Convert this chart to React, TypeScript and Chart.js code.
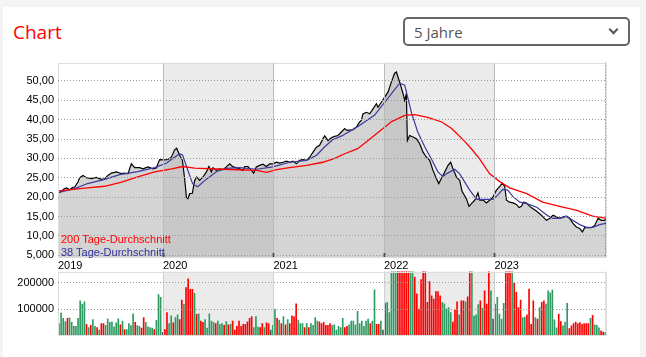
import React, { useEffect, useRef } from 'react';
import { Chart, registerables } from 'chart.js';

Chart.register(...registerables);

// ---------- axis ranges / ticks ----------
const xMin = 2019.05;
const xMax = 2024.019;
const xTickValues = [2019.05, 2020, 2021, 2022, 2023];
const xTickLabels = ['2019', '2020', '2021', '2022', '2023'];
const yearLines = [2020, 2021, 2022, 2023, 2024];
const shadedYears = [[2020, 2021], [2022, 2023], [2024, 2025]];
const yMin = 4.28;
const yMax = 54.73;
const yTickValues = [5, 10, 15, 20, 25, 30, 35, 40, 45, 50];
const yTickLabels = ['5,000', '10,00', '15,00', '20,00', '25,00', '30,00', '35,00', '40,00', '45,00', '50,00'];
const volMax = 243000;
const volTickValues = [100000, 200000];
const volTickLabels = ['100000', '200000'];

// ---------- price (dates as decimal years) ----------
const priceDates2019 = [2019.059, 2019.083, 2019.110, 2019.128, 2019.155, 2019.183, 2019.201, 2019.231, 2019.246, 2019.276, 2019.307, 2019.352, 2019.397, 2019.442, 2019.472, 2019.502, 2019.533, 2019.578, 2019.623, 2019.653, 2019.683, 2019.714, 2019.744, 2019.789, 2019.819, 2019.864, 2019.910, 2019.940, 2019.970];
const priceValues2019 = [21.1, 21.6, 22.2, 22.4, 21.9, 22.5, 22.6, 23.9, 25.0, 25.6, 25.0, 24.8, 25.1, 24.6, 24.7, 25.6, 26.2, 26.5, 26.1, 26.2, 26.0, 28.6, 27.6, 27.6, 27.3, 27.8, 27.3, 27.5, 29.7];
const priceDates2020 = [2020.015, 2020.045, 2020.076, 2020.106, 2020.124, 2020.151, 2020.176, 2020.196, 2020.212, 2020.226, 2020.242, 2020.266, 2020.287, 2020.305, 2020.332, 2020.362, 2020.393, 2020.416, 2020.438, 2020.453, 2020.483, 2020.513, 2020.543, 2020.574, 2020.604, 2020.634, 2020.664, 2020.694, 2020.724, 2020.740, 2020.769, 2020.800, 2020.821, 2020.845, 2020.875, 2020.905, 2020.936, 2020.966];
const priceValues2020 = [29.6, 29.7, 30.3, 32.2, 32.6, 30.8, 29.5, 24.8, 20.0, 19.6, 20.9, 21.0, 24.3, 25.2, 24.3, 25.2, 26.5, 27.9, 26.5, 27.6, 26.9, 27.3, 27.1, 27.8, 28.6, 27.8, 27.6, 27.3, 26.9, 27.9, 27.9, 26.9, 26.2, 27.8, 28.2, 28.5, 27.9, 28.6];
const priceDates2021 = [2020.996, 2021.027, 2021.056, 2021.086, 2021.117, 2021.147, 2021.177, 2021.208, 2021.237, 2021.267, 2021.298, 2021.328, 2021.358, 2021.389, 2021.418, 2021.448, 2021.464, 2021.494, 2021.524, 2021.554, 2021.584, 2021.615, 2021.645, 2021.660, 2021.690, 2021.720, 2021.751, 2021.781, 2021.796, 2021.810, 2021.841, 2021.871, 2021.901, 2021.932, 2021.946, 2021.977];
const priceValues2021 = [28.6, 29.0, 28.8, 29.0, 29.3, 29.0, 29.3, 28.6, 29.5, 29.7, 29.5, 30.3, 31.6, 32.9, 33.4, 35.1, 35.8, 34.6, 35.3, 35.7, 35.9, 36.8, 37.7, 37.3, 37.3, 37.4, 38.1, 39.4, 39.8, 41.5, 41.9, 41.5, 42.8, 44.1, 43.2, 44.5];
const priceDates2022 = [2022.007, 2022.037, 2022.067, 2022.097, 2022.113, 2022.127, 2022.152, 2022.173, 2022.188, 2022.203, 2022.212, 2022.233, 2022.263, 2022.294, 2022.324, 2022.354, 2022.384, 2022.414, 2022.444, 2022.475, 2022.496, 2022.520, 2022.550, 2022.580, 2022.604, 2022.625, 2022.656, 2022.686, 2022.707, 2022.746, 2022.770, 2022.792, 2022.822, 2022.851, 2022.867, 2022.897, 2022.927, 2022.957, 2022.987];
const priceValues2022 = [45.8, 47.1, 49.7, 52.0, 52.3, 51.0, 48.8, 46.7, 45.0, 46.7, 34.6, 35.9, 35.5, 35.1, 33.8, 31.6, 30.3, 29.5, 26.9, 24.8, 23.5, 24.8, 26.5, 28.2, 29.0, 27.3, 25.2, 24.3, 21.5, 19.6, 17.6, 18.3, 19.2, 21.1, 19.2, 19.3, 18.5, 19.2, 20.0];
const priceDates2023 = [2023.018, 2023.048, 2023.072, 2023.093, 2023.109, 2023.138, 2023.168, 2023.199, 2023.223, 2023.244, 2023.265, 2023.290, 2023.319, 2023.349, 2023.380, 2023.410, 2023.440, 2023.471, 2023.500, 2023.530, 2023.561, 2023.591, 2023.621, 2023.652, 2023.681, 2023.711, 2023.742, 2023.772, 2023.796, 2023.817, 2023.847, 2023.878, 2023.908, 2023.938, 2023.968, 2023.998, 2024.014];
const priceValues2023 = [21.8, 22.8, 23.6, 22.8, 19.2, 18.7, 18.5, 18.1, 17.3, 17.6, 18.7, 18.5, 17.6, 17.0, 16.4, 15.7, 14.9, 14.0, 14.5, 15.3, 14.9, 14.5, 14.9, 15.1, 14.5, 13.2, 12.3, 11.9, 11.0, 12.1, 12.1, 12.1, 12.7, 14.5, 14.0, 14.0, 14.5];

// ---------- moving averages ----------
const ma200Dates = [2019.056, 2019.318, 2019.472, 2019.626, 2019.771, 2019.925, 2020.079, 2020.178, 2020.287, 2020.540, 2020.848, 2020.939, 2021.029, 2021.147, 2021.301, 2021.446, 2021.554, 2021.645, 2021.762, 2021.916, 2022.070, 2022.188, 2022.278, 2022.396, 2022.523, 2022.613, 2022.731, 2022.803, 2022.867, 2022.957, 2023.048, 2023.138, 2023.292, 2023.437, 2023.591, 2023.745, 2023.890, 2024.016];
const ma200Values = [21.6, 22.4, 22.8, 23.9, 25.2, 26.5, 27.3, 27.9, 27.5, 27.2, 26.9, 26.4, 27.1, 27.6, 28.2, 29.0, 30.0, 31.2, 32.5, 36.0, 39.5, 41.1, 41.3, 40.6, 39.4, 37.7, 34.4, 32.1, 29.8, 26.0, 24.0, 22.4, 20.9, 18.7, 17.6, 16.6, 15.1, 14.5];
const ma38Dates = [2019.056, 2019.201, 2019.318, 2019.472, 2019.608, 2019.771, 2019.925, 2020.033, 2020.079, 2020.151, 2020.178, 2020.224, 2020.269, 2020.314, 2020.396, 2020.486, 2020.577, 2020.694, 2020.848, 2020.993, 2021.147, 2021.301, 2021.391, 2021.464, 2021.536, 2021.618, 2021.762, 2021.916, 2022.070, 2022.143, 2022.188, 2022.251, 2022.306, 2022.369, 2022.432, 2022.487, 2022.532, 2022.577, 2022.641, 2022.686, 2022.776, 2022.840, 2022.985, 2023.030, 2023.075, 2023.120, 2023.166, 2023.229, 2023.292, 2023.383, 2023.473, 2023.528, 2023.591, 2023.654, 2023.709, 2023.772, 2023.835, 2023.890, 2023.953, 2024.016];
const ma38Values = [21.2, 22.2, 23.5, 24.6, 25.8, 26.6, 27.6, 28.8, 29.8, 31.2, 30.8, 27.0, 23.4, 22.7, 24.7, 26.6, 27.4, 27.6, 27.2, 27.8, 29.0, 29.5, 30.8, 33.0, 34.8, 35.8, 38.2, 41.2, 46.8, 49.4, 48.9, 41.6, 36.8, 33.0, 29.7, 26.6, 25.3, 26.2, 27.2, 26.0, 21.8, 19.4, 19.4, 20.5, 22.0, 21.8, 20.2, 18.7, 18.3, 17.4, 15.4, 14.5, 14.5, 15.0, 14.0, 12.9, 12.2, 12.2, 12.9, 13.3];

// ---------- weekly volume (thousands) and direction (g up, r down, d neutral) ----------
const volStart = 2019.059;
const weekStep = 7 / 365.25;
const vol2019 = [45, 85, 65, 53, 65, 67, 50, 35, 35, 65, 132, 118, 128, 42, 30, 38, 60, 35, 30, 20, 45, 45, 38, 63, 50, 52, 33, 48, 63, 40, 55, 22, 22, 45, 37, 82, 50, 37, 35, 28, 68, 50, 33, 30, 28, 22, 57, 155, 145, 12];
const dir2019 = 'ggggrggggggggrgrggrgrrgggggggrgrggggrggrrggggrgggd';
const vol2020 = [22, 87, 45, 75, 48, 68, 78, 60, 135, 118, 182, 215, 175, 175, 160, 80, 82, 55, 50, 60, 28, 82, 55, 50, 45, 55, 42, 45, 38, 53, 40, 42, 55, 20, 35, 55, 35, 42, 42, 52, 65, 72, 30, 72, 32, 30, 45, 30, 48, 45, 20, 38];
const dir2020 = 'rrggrggrrgrrrrgrgrrgggggrgggrgrgrrrrrrrrrrgggrrgrrdg';
const vol2021 = [100, 65, 58, 45, 72, 40, 60, 45, 75, 72, 120, 58, 45, 45, 30, 45, 30, 45, 38, 68, 55, 52, 45, 50, 38, 38, 45, 38, 40, 20, 35, 30, 65, 30, 35, 40, 55, 55, 40, 92, 45, 55, 35, 55, 62, 45, 55, 174, 42, 42, 55, 20];
const dir2021 = 'grgrgrgrrrrgggrgrggggrrrrrrggggggrrggggggggggrggrrgd';
const vol2022 = [122, 126, 87, 250, 250, 250, 250, 250, 250, 250, 250, 250, 250, 250, 222, 158, 100, 213, 250, 250, 126, 205, 151, 138, 167, 167, 151, 126, 120, 100, 106, 87, 51, 96, 128, 78, 132, 132, 128, 147, 250, 250, 74, 78, 117, 132, 103, 170, 119, 250, 170, 62];
const dir2022 = 'rgggggrrrrrrggrrrrrrrrrrrrrgggggrrrgrrgrrggggrgrrrgd';
const vol2023 = [119, 145, 81, 62, 122, 250, 250, 250, 250, 199, 164, 106, 135, 68, 70, 78, 176, 42, 132, 68, 62, 106, 126, 132, 119, 170, 162, 173, 59, 29, 81, 53, 36, 51, 122, 26, 36, 45, 51, 45, 49, 42, 45, 45, 45, 65, 76, 40, 38, 29, 17, 13, 12];
const dir2023 = 'gggggrrrgrrrrggrrrrgrgrrggggggrrgggrrrrrrrrrrgrgggrrg';

const dirColors: Record<string, string> = { g: '#2e9c62', r: '#ff0000', d: '#555555' };
const FONT = '"Liberation Sans", Arial, sans-serif';

const yearBands = {
  id: 'yearBands',
  beforeDraw(chart: any, _a: any, opts: any) {
    const { ctx, chartArea: a, scales } = chart;
    const x = scales.x;
    ctx.save();
    ctx.fillStyle = '#ffffff';
    ctx.fillRect(a.left, a.top, a.right - a.left, a.bottom - a.top);
    ctx.fillStyle = opts.band;
    for (const [s, e] of shadedYears) {
      const x0 = Math.max(a.left, x.getPixelForValue(s));
      const x1 = Math.min(a.right, x.getPixelForValue(e));
      if (x1 > x0) ctx.fillRect(x0, a.top, x1 - x0, a.bottom - a.top);
    }
    ctx.restore();
  },
  afterDatasetsDraw(chart: any, _a: any, opts: any) {
    const { ctx, chartArea: a, scales } = chart;
    const x = scales.x;
    ctx.save();
    ctx.lineWidth = 1;
    for (const yr of yearLines) {
      const px = Math.round(x.getPixelForValue(yr)) + 0.5;
      if (px < a.left || px > a.right) continue;
      ctx.beginPath();
      if (yr === 2024) {
        ctx.setLineDash([1, 2]);
        ctx.strokeStyle = opts.lastColor;
      } else {
        ctx.setLineDash([]);
        ctx.strokeStyle = opts.lineColor;
      }
      ctx.moveTo(px, a.top);
      ctx.lineTo(px, a.bottom);
      ctx.stroke();
      if (opts.ticks && yr !== 2024) {
        ctx.setLineDash([]);
        ctx.strokeStyle = '#555555';
        ctx.lineWidth = 2;
        ctx.beginPath();
        ctx.moveTo(px, a.bottom - 5);
        ctx.lineTo(px, a.bottom);
        ctx.stroke();
        ctx.lineWidth = 1;
      }
    }
    ctx.setLineDash([]);
    ctx.strokeStyle = '#dddddd';
    ctx.strokeRect(Math.round(a.left) + 0.5, Math.round(a.top) + 0.5, Math.round(a.right - a.left) - 1, Math.round(a.bottom - a.top) - 1);
    ctx.restore();
  },
};

function zip(d: number[], v: number[]) {
  return d.map((x, i) => ({ x, y: v[i] }));
}

export default function App() {
  const mainRef = useRef<HTMLCanvasElement>(null);
  const volRef = useRef<HTMLCanvasElement>(null);

  useEffect(() => {
    Chart.defaults.font.family = FONT;
    Chart.defaults.font.size = 11;
    Chart.defaults.color = '#000';

    const pricePoints = [
      ...zip(priceDates2019, priceValues2019),
      ...zip(priceDates2020, priceValues2020),
      ...zip(priceDates2021, priceValues2021),
      ...zip(priceDates2022, priceValues2022),
      ...zip(priceDates2023, priceValues2023),
    ];

    const main = new Chart(mainRef.current!, {
      type: 'line',
      data: {
        datasets: [
          {
            data: pricePoints,
            borderColor: '#000000',
            borderWidth: 1.2,
            pointRadius: 0,
            fill: 'start',
            backgroundColor: 'rgba(148,148,148,0.4)',
            order: 3,
          },
          {
            data: zip(ma38Dates, ma38Values),
            borderColor: '#3b3b9e',
            borderWidth: 1.2,
            pointRadius: 0,
            fill: false,
            order: 2,
          },
          {
            data: zip(ma200Dates, ma200Values),
            borderColor: '#ff0000',
            borderWidth: 1.3,
            pointRadius: 0,
            fill: false,
            order: 1,
          },
        ],
      },
      options: {
        animation: false,
        responsive: false,
        events: [],
        layout: { padding: { top: 0, right: 3, left: 0, bottom: 0 } },
        plugins: {
          legend: { display: false },
          tooltip: { enabled: false },
          yearBands: { band: '#ebebeb', lineColor: '#bbbbbb', lastColor: '#777777', ticks: true },
        } as any,
        scales: {
          x: {
            type: 'linear',
            min: xMin,
            max: xMax,
            offset: false,
            afterBuildTicks: (ax: any) => {
              ax.ticks = xTickValues.map((v) => ({ value: v }));
            },
            afterFit: (ax: any) => {
              ax.height = 20;
            },
            ticks: {
              align: 'start',
              padding: 1,
              maxRotation: 0,
              autoSkip: false,
              color: '#000',
              font: { size: 11, family: FONT },
              callback: (_v: any, i: number) => xTickLabels[i],
            },
            grid: { display: false, drawTicks: false },
            border: { display: false },
          },
          y: {
            type: 'linear',
            min: yMin,
            max: yMax,
            afterBuildTicks: (ax: any) => {
              ax.ticks = yTickValues.map((v) => ({ value: v }));
            },
            afterFit: (ax: any) => {
              ax.width = 58;
            },
            ticks: {
              padding: 4,
              autoSkip: false,
              color: '#000',
              font: { size: 11, family: FONT },
              callback: (_v: any, i: number) => yTickLabels[i],
            },
            grid: { color: '#9a9a9a', drawTicks: false, z: 1 },
            border: { display: false, dash: [1, 2] },
          },
        },
      },
      plugins: [yearBands],
    } as any);

    const volValues = [...vol2019, ...vol2020, ...vol2021, ...vol2022, ...vol2023];
    const volDirs = (dir2019 + dir2020 + dir2021 + dir2022 + dir2023).split('');
    const volPoints = volValues.map((v, i) => ({ x: volStart + i * weekStep, y: v * 1000 }));
    const volColors = volValues.map((_v, i) => dirColors[volDirs[i]] || dirColors.g);

    const vol = new Chart(volRef.current!, {
      type: 'bar',
      data: {
        datasets: [
          {
            data: volPoints,
            backgroundColor: volColors,
            borderWidth: 0,
            barThickness: 1,
          },
        ],
      },
      options: {
        animation: false,
        responsive: false,
        events: [],
        layout: { padding: { top: 0, right: 3, left: 0, bottom: 0 } },
        plugins: {
          legend: { display: false },
          tooltip: { enabled: false },
          yearBands: { band: '#ebebeb', lineColor: '#d0d0d0', lastColor: '#d0d0d0', ticks: false },
        } as any,
        scales: {
          x: { type: 'linear', min: xMin, max: xMax, offset: false, grid: { offset: false }, display: false },
          y: {
            type: 'linear',
            min: 0,
            max: volMax,
            afterBuildTicks: (ax: any) => {
              ax.ticks = volTickValues.map((v) => ({ value: v }));
            },
            afterFit: (ax: any) => {
              ax.width = 58;
            },
            ticks: {
              padding: 4,
              autoSkip: false,
              color: '#000',
              font: { size: 11, family: FONT },
              callback: (_v: any, i: number) => volTickLabels[i],
            },
            grid: { color: '#9a9a9a', drawTicks: false, z: 1 },
            border: { display: false, dash: [1, 2] },
          },
        },
      },
      plugins: [yearBands],
    } as any);

    return () => {
      main.destroy();
      vol.destroy();
    };
  }, []);

  const legendBase: React.CSSProperties = {
    position: 'absolute',
    left: 61,
    font: `11px ${FONT}`,
    lineHeight: '12px',
    whiteSpace: 'nowrap',
    zIndex: 3,
  };

  return (
    <div style={{ position: 'fixed', left: 0, top: 0, width: 646, height: 357, overflow: 'hidden', background: '#f4f4f4' }}>
      <div style={{ position: 'absolute', left: 3, top: 7, width: 637, height: 360, background: '#ffffff' }} />
      <div style={{ position: 'absolute', left: 13, top: 19, font: '19px "Open Sans", sans-serif', lineHeight: '26px', color: '#ff0000', whiteSpace: 'nowrap' }}>Chart</div>
      <div style={{ position: 'absolute', left: 403, top: 17, width: 227, height: 29, boxSizing: 'border-box', border: '2px solid #666666', borderRadius: 5, background: '#ffffff' }}>
        <span style={{ position: 'absolute', left: 9, top: 2, font: '15px "Open Sans", sans-serif', lineHeight: '22px', color: '#555555', whiteSpace: 'nowrap' }}>5 Jahre</span>
        <div style={{ position: 'absolute', left: 205, top: 7, width: 5, height: 5, borderRight: '2px solid #555555', borderBottom: '2px solid #555555', transform: 'rotate(45deg)' }} />
      </div>
      <canvas ref={volRef} width={610} height={85} style={{ position: 'absolute', left: 0, top: 261, width: 610, height: 85 }} />
      <canvas ref={mainRef} width={610} height={226} style={{ position: 'absolute', left: 0, top: 52, width: 610, height: 226 }} />
      <div style={{ ...legendBase, top: 233, color: '#ff0000' }}>200 Tage-Durchschnitt</div>
      <div style={{ ...legendBase, top: 245.5, color: '#333399' }}>38 Tage-Durchschnitt</div>
    </div>
  );
}
